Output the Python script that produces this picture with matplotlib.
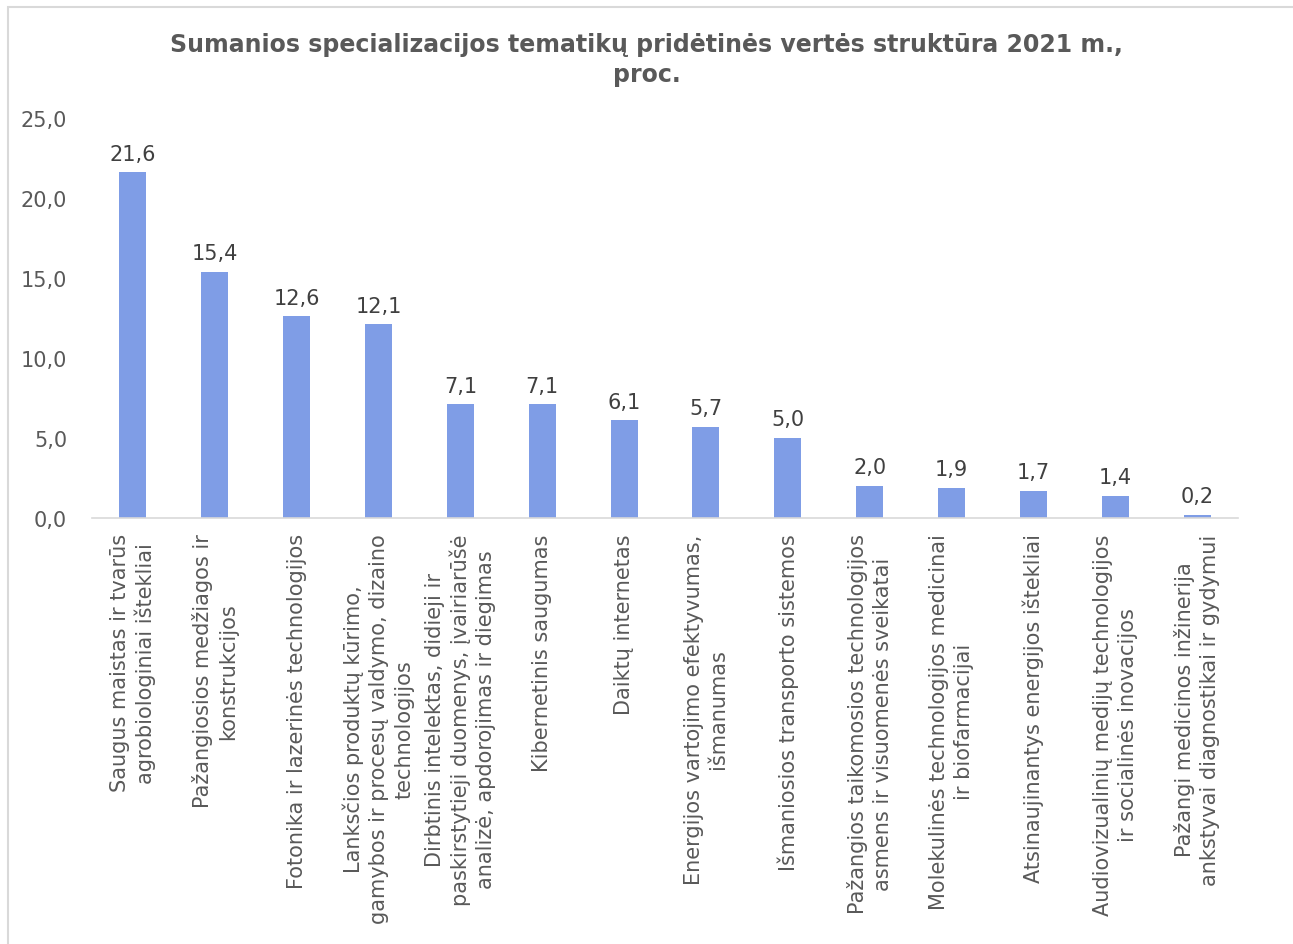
import matplotlib.pyplot as plt
from matplotlib.patches import Rectangle

plt.rcParams['font.family'] = ['DejaVu Sans']

categories = [
    "Saugus maistas ir tvarūs\nagrobiologiniai ištekliai",
    "Pažangiosios medžiagos ir\nkonstrukcijos",
    "Fotonika ir lazerinės technologijos",
    "Lanksčios produktų kūrimo,\ngamybos ir procesų valdymo, dizaino\ntechnologijos",
    "Dirbtinis intelektas, didieji ir\npaskirstytieji duomenys, įvairiarūšė\nanalizė, apdorojimas ir diegimas",
    "Kibernetinis saugumas",
    "Daiktų internetas",
    "Energijos vartojimo efektyvumas,\nišmanumas",
    "Išmaniosios transporto sistemos",
    "Pažangios taikomosios technologijos\nasmens ir visuomenės sveikatai",
    "Molekulinės technologijos medicinai\nir biofarmacijai",
    "Atsinaujinantys energijos ištekliai",
    "Audiovizualinių medijų technologijos\nir socialinės inovacijos",
    "Pažangi medicinos inžinerija\nankstyvai diagnostikai ir gydymui",
]
values = [21.6, 15.4, 12.6, 12.1, 7.1, 7.1, 6.1, 5.7, 5.0, 2.0, 1.9, 1.7, 1.4, 0.2]
title = "Sumanios specializacijos tematikų pridėtinės vertės struktūra 2021 m.,\nproc."

text_col = "#595959"
bar_col = "#7F9DE6"

fig = plt.figure(figsize=(12.93, 9.45), dpi=100)
fig.patches.append(Rectangle((8 / 1293, -0.01), 1.02, 1 - 8 / 945 + 0.01,
                             transform=fig.transFigure, fill=False,
                             edgecolor="#D9D9D9", linewidth=1.5))
ax = fig.add_axes([92 / 1293, 1 - 519 / 945, (1238 - 92) / 1293, 400 / 945])

x = range(len(values))
ax.bar(x, values, width=0.33, color=bar_col)
for xi, v in zip(x, values):
    ax.text(xi, v + 0.55, f"{v:.1f}".replace(".", ","), ha="center", va="bottom",
            fontsize=15, color="#404040")

ax.set_xlim(-0.5, len(values) - 0.5)
ax.set_ylim(0, 25)
ticks = [0, 5, 10, 15, 20, 25]
ax.set_yticks(ticks)
ax.set_yticklabels([f"{t:.1f}".replace(".", ",") for t in ticks])
ax.set_xticks(list(x))
ax.set_xticklabels(categories, rotation=90, ha="center", va="top",
                   multialignment="center", fontsize=15, color=text_col,
                   linespacing=1.3)
ax.tick_params(axis="y", length=0, labelsize=15, labelcolor=text_col, pad=18)
ax.tick_params(axis="x", length=0, pad=11)
for s in ["top", "right", "left"]:
    ax.spines[s].set_visible(False)
ax.spines["bottom"].set_color("#D9D9D9")
ax.spines["bottom"].set_linewidth(1.2)

fig.text(0.5, 1 - 60 / 945, title, ha="center", va="center", fontsize=17,
         fontweight="bold", color=text_col, linespacing=1.3)

fig.savefig("out.png", dpi=100)
